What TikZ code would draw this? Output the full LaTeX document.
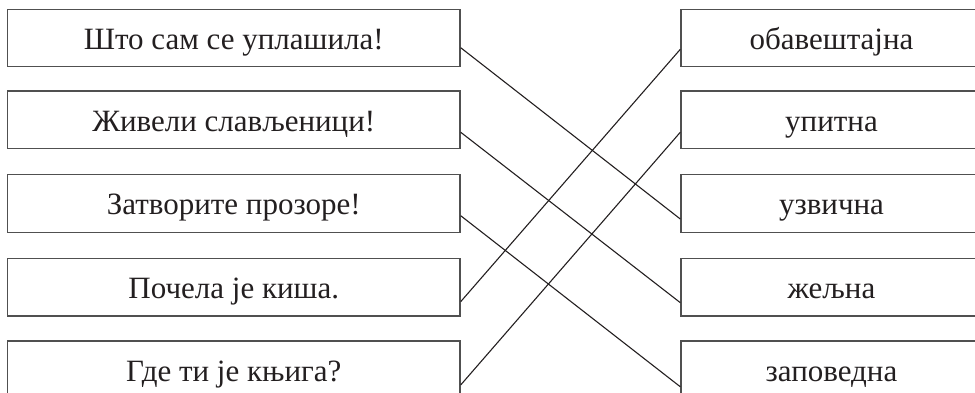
\documentclass[tikz,border=0pt]{standalone}
\usepackage{fontspec}
\setmainfont{Liberation Serif}
\begin{document}
\begin{tikzpicture}[x=1pt,y=-1pt,
  lbox/.style={draw=boxgray,line width=1.4pt,minimum width=452.5pt,minimum height=57.5pt,inner sep=0pt,text height=25pt,text depth=2.5pt,font=\fontsize{31}{35}\selectfont,text=txt},
  rbox/.style={lbox,minimum width=301pt},
  link/.style={draw=txt,line width=1.1pt}]
\definecolor{boxgray}{HTML}{505050}
\definecolor{txt}{HTML}{231F20}
\useasboundingbox (0,0) rectangle (975,392);
\clip (0,0) rectangle (975,392);
\node[lbox] (L1) at (233.75,38) {Што сам се уплашила!};
\node[lbox] (L2) at (233.75,119.75) {Живели слављеници!};
\node[lbox] (L3) at (233.75,203.5) {Затворите прозоре!};
\node[lbox] (L4) at (233.75,287.25) {Почела је киша.};
\node[lbox] (L5) at (233.75,369.75) {Где ти је књига?};
\node[rbox] (R1) at (831.5,38) {обавештајна};
\node[rbox] (R2) at (831.5,119.75) {упитна};
\node[rbox] (R3) at (831.5,203.5) {узвична};
\node[rbox] (R4) at (831.5,287.25) {жељна};
\node[rbox] (R5) at (831.5,369.75) {заповедна};
\draw[link] ([yshift=-9.7pt]L1.east) -- ([yshift=-15.5pt]R3.west);
\draw[link] ([yshift=-12.5pt]L2.east) -- ([yshift=-15.4pt]R4.west);
\draw[link] ([yshift=-12.2pt]L3.east) -- ([yshift=-17pt]R5.west);
\draw[link] ([yshift=-14.4pt]L4.east) -- ([yshift=-11.3pt]R1.west);
\draw[link] ([yshift=-15.2pt]L5.east) -- ([yshift=-12.5pt]R2.west);
\end{tikzpicture}
\end{document}
